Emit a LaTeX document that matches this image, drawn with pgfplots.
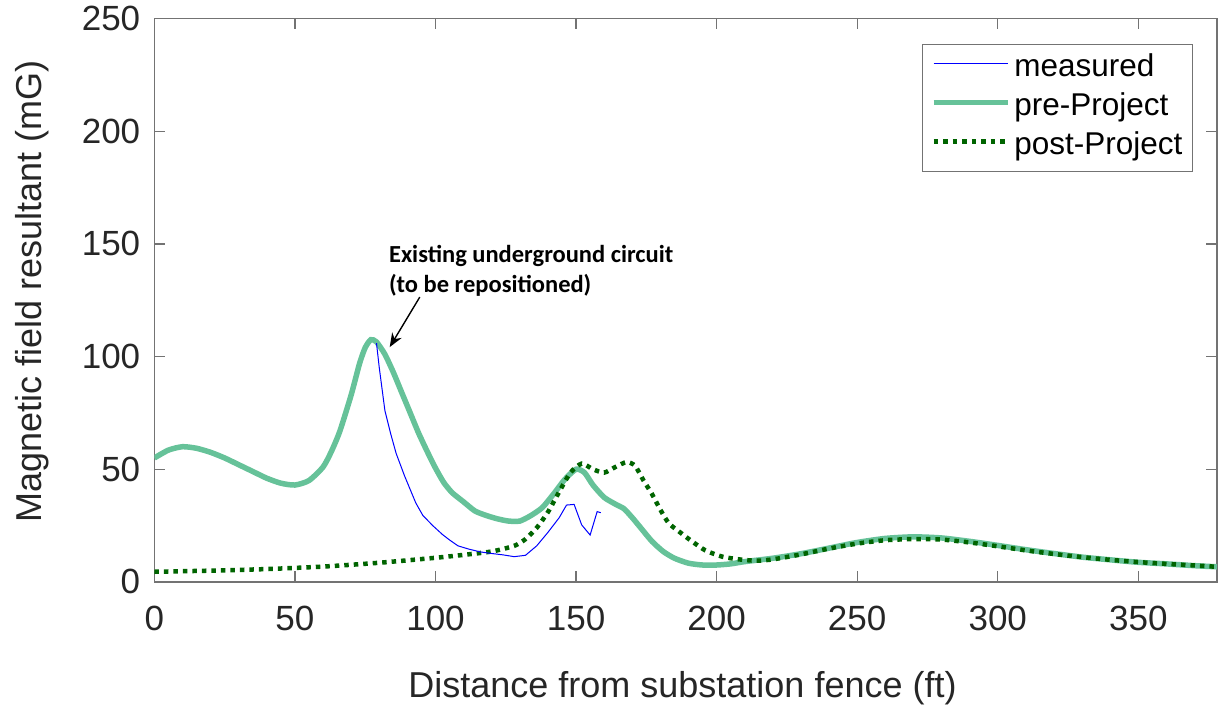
\documentclass[border=0pt]{standalone}
\usepackage{fontspec}
\setmainfont{Liberation Sans}
\newfontfamily\carlito{Carlito}
\usepackage{pgfplots}
\pgfplotsset{compat=1.18}
\usetikzlibrary{arrows.meta}

\definecolor{preg}{RGB}{102,194,153}
\definecolor{postg}{RGB}{0,100,0}
\definecolor{axgray}{RGB}{38,38,38}

\begin{document}
\begin{tikzpicture}
\begin{axis}[
 name=ax,
 scale only axis,
 width=1062.6bp, height=563.3bp,
 xmin=0, xmax=378, ymin=0, ymax=250,
 xtick={0,50,...,350}, ytick={0,50,...,250},
 axis line style={black!55, line width=1.2bp},
 every tick/.style={black!55, line width=1.2bp},
 major tick length=10.6bp,
 tick align=inside,
 /pgf/number format/assume math mode=true,
 ticklabel style={font=\fontsize{35bp}{42bp}\selectfont, text=axgray},
 xticklabel style={inner sep=0pt, anchor=north, yshift=-24bp},
 yticklabel style={inner sep=0pt, anchor=east, xshift=-14bp},
 xlabel={Distance from substation fence (ft)},
 ylabel={Magnetic field resultant (mG)},
 label style={font=\fontsize{36bp}{43bp}\selectfont, text=axgray},
 xlabel style={at={(axis description cs:0.497,-0.188)}, anchor=center},
 ylabel style={at={(axis description cs:-0.1152,0.515)}, anchor=center},
 legend style={
   at={(axis description cs:0.9774,0.9549)}, anchor=north east,
   draw=black!55, line width=1bp, fill=white,
   font=\fontsize{31.5bp}{38bp}\selectfont, text=black,
   inner xsep=8bp, inner ysep=8bp,
   row sep=6bp, column sep=2bp,
   nodes={inner sep=2bp, text depth=7bp, text height=22bp},
   cells={anchor=west},
 },
 legend image code/.code={\draw[#1] (0bp,5.5bp) -- (74bp,5.5bp);},
]
\addlegendimage{blue, line width=1bp}
\addlegendentry{measured}
\addlegendimage{preg, line width=5.5bp}
\addlegendentry{pre-Project}
\addlegendimage{postg, line width=4.5bp, dash pattern=on 4.5bp off 5bp}
\addlegendentry{post-Project}

\addplot[preg, line width=5.5bp, smooth, tension=0.4, forget plot] coordinates {
(0,55) (5,58.5) (10,60) (15,59.3) (20,57.5) (25,55) (30,52) (35,49) (40,46) (45,43.8)
(50,43) (55,45) (60,51) (63,58) (66,67) (70,83) (73,97) (75,104) (77,107.5) (79,106.5)
(82,101) (85,93) (88,84) (91,75) (94,66) (97,58) (100,50.5) (103,44) (106,39.5) (110,35.5)
(114,31.5) (118,29.5) (122,28) (126,27) (130,27) (134,29.5) (138,33) (142,39) (146,45.5) (150,50)
(153,48.5) (156,43) (160,37.5) (164,34.5) (167,32.5) (170,28.5) (173,24) (177,18) (181,13.5) (185,10.5)
(190,8.3) (195,7.5) (200,7.5) (205,8) (210,9) (220,10.5) (230,12.5) (240,15) (250,17.5) (260,19.3)
(270,20) (280,19.5) (290,18) (300,16.2) (310,14.3) (320,12.6) (330,11) (340,9.8) (350,8.7) (360,8)
(370,7.2) (378,6.7)
};
\addplot[postg, line width=4.5bp, dash pattern=on 4.5bp off 5bp, smooth, tension=0.4, forget plot] coordinates {
(0,4.5) (20,5) (40,5.7) (60,6.8) (80,8.5) (100,10.7) (110,12) (120,13.5) (128,16) (132,19)
(136,24) (140,31) (144,40) (148,48.5) (152,52.5) (156,50) (160,48.5) (164,51) (168,53.2) (171,51.5)
(174,45) (177,39) (180,32) (183,26) (187,22) (191,18.2) (196,14) (202,11.2) (208,10) (214,9.4)
(220,10) (230,12.2) (240,14.8) (250,17) (260,18.5) (270,19) (280,18.8) (290,17.5) (300,15.8) (310,14)
(320,12.4) (330,11) (340,9.8) (350,8.8) (360,8) (370,7.3) (378,6.7)
};
\addplot[blue, line width=1bp, forget plot] coordinates {
(79,106) (80,95) (82,76) (84,66) (86,57) (89,47) (91,41) (93,35) (95.5,29.5) (99,25)
(102.5,21) (105,18.6) (108,16) (112,14.5) (116,13.3) (120,12.6) (124,12) (128,11.2) (132,11.8) (136,16)
(140,22) (144,28.5) (146.6,34.1) (149.3,34.4) (152,25.3) (155,20.8) (157.5,31.2) (158.8,30.7)
};

\node[anchor=north west, inner sep=0pt, align=left, text=black,
      font=\carlito\bfseries\fontsize{24.5bp}{30bp}\selectfont]
  at (axis cs:83.4,149.5) {Existing underground circuit\\(to be repositioned)};
\draw[black, line width=1.4bp, -{Stealth[length=14bp,width=11bp]}]
  (axis cs:94.4,126.4) -- (axis cs:83.7,104.2);
\end{axis}
\pgfresetboundingbox
\path[use as bounding box] ([shift={(-154.4bp,-127.1bp)}]ax.south west) rectangle ([shift={(3bp,18.6bp)}]ax.north east);
\end{tikzpicture}
\end{document}
